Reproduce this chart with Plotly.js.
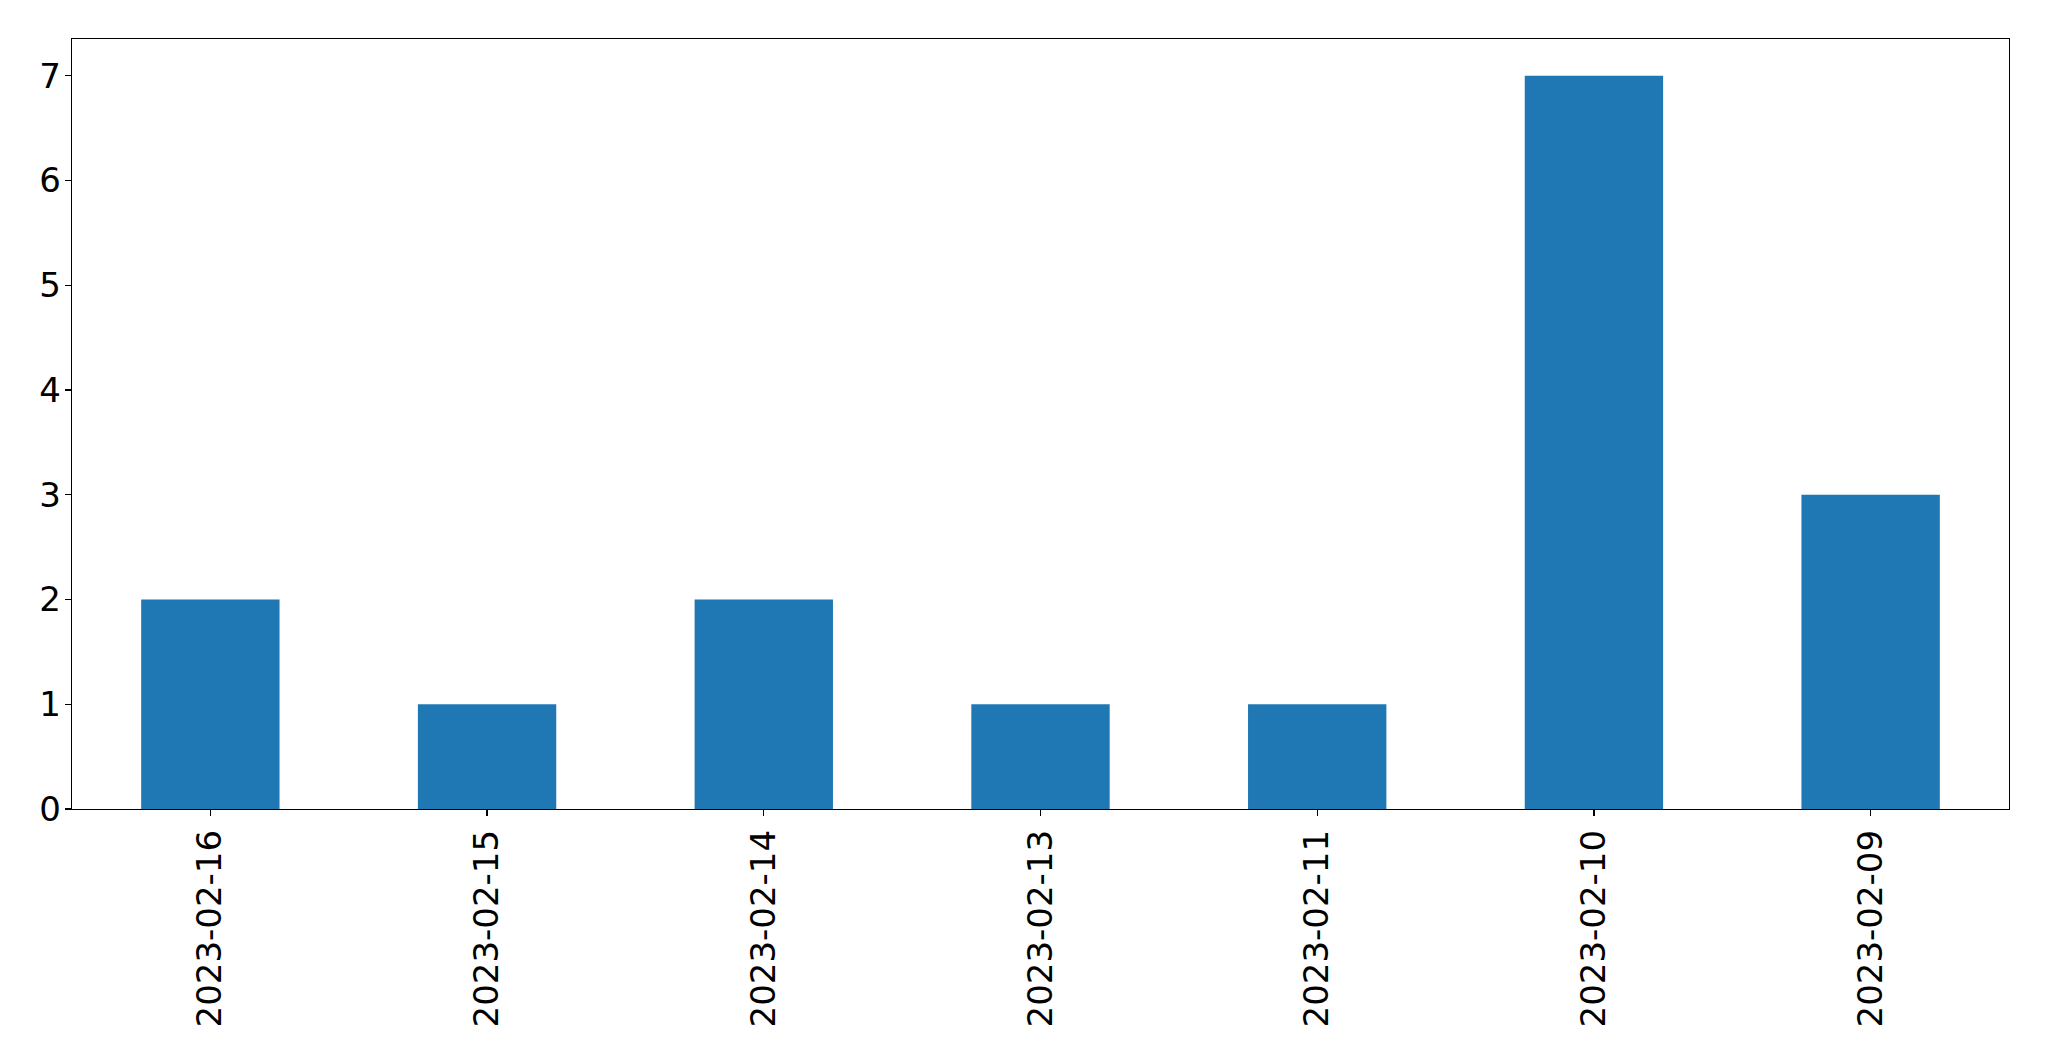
<!DOCTYPE html>
<html>
<head>
<meta charset="utf-8">
<script src="https://cdn.plot.ly/plotly-3.0.1.min.js"></script>
<style>html,body{margin:0;padding:0;background:#fff;}#chart{width:2049px;height:1061px;}</style>
</head>
<body>
<div id="chart"></div>
<script>
const categories = ["2023-02-16", "2023-02-15", "2023-02-14", "2023-02-13", "2023-02-11", "2023-02-10", "2023-02-09"];
const counts = [2, 1, 2, 1, 1, 7, 3];
const yTicks = [0, 1, 2, 3, 4, 5, 6, 7];

const trace = {
  type: 'bar',
  x: categories,
  y: counts,
  width: 0.5,
  marker: {color: '#1f77b4', line: {width: 0}},
  hoverinfo: 'x+y'
};

const axisCommon = {
  showline: true,
  linecolor: '#000',
  linewidth: 1.3,
  mirror: true,
  ticks: 'outside',
  ticklen: 6,
  tickwidth: 1.3,
  tickcolor: '#000',
  showgrid: false,
  zeroline: false,
  tickfont: {family: 'DejaVu Sans', size: 34, color: '#000'}
};

const layout = {
  width: 2049,
  height: 1061,
  margin: {l: 72, r: 40, t: 39, b: 252, pad: 0},
  paper_bgcolor: '#fff',
  plot_bgcolor: '#fff',
  showlegend: false,
  bargap: 0.5,
  xaxis: Object.assign({}, axisCommon, {
    type: 'category',
    range: [-0.5, 6.5],
    tickangle: -90,
    automargin: false
  }),
  yaxis: Object.assign({}, axisCommon, {
    range: [0, 7.35],
    tickmode: 'array',
    tickvals: yTicks,
    ticktext: yTicks.map(String),
    ticklabelstandoff: -3,
    automargin: false
  })
};

Plotly.newPlot('chart', [trace], layout, {staticPlot: true});
</script>
</body>
</html>
